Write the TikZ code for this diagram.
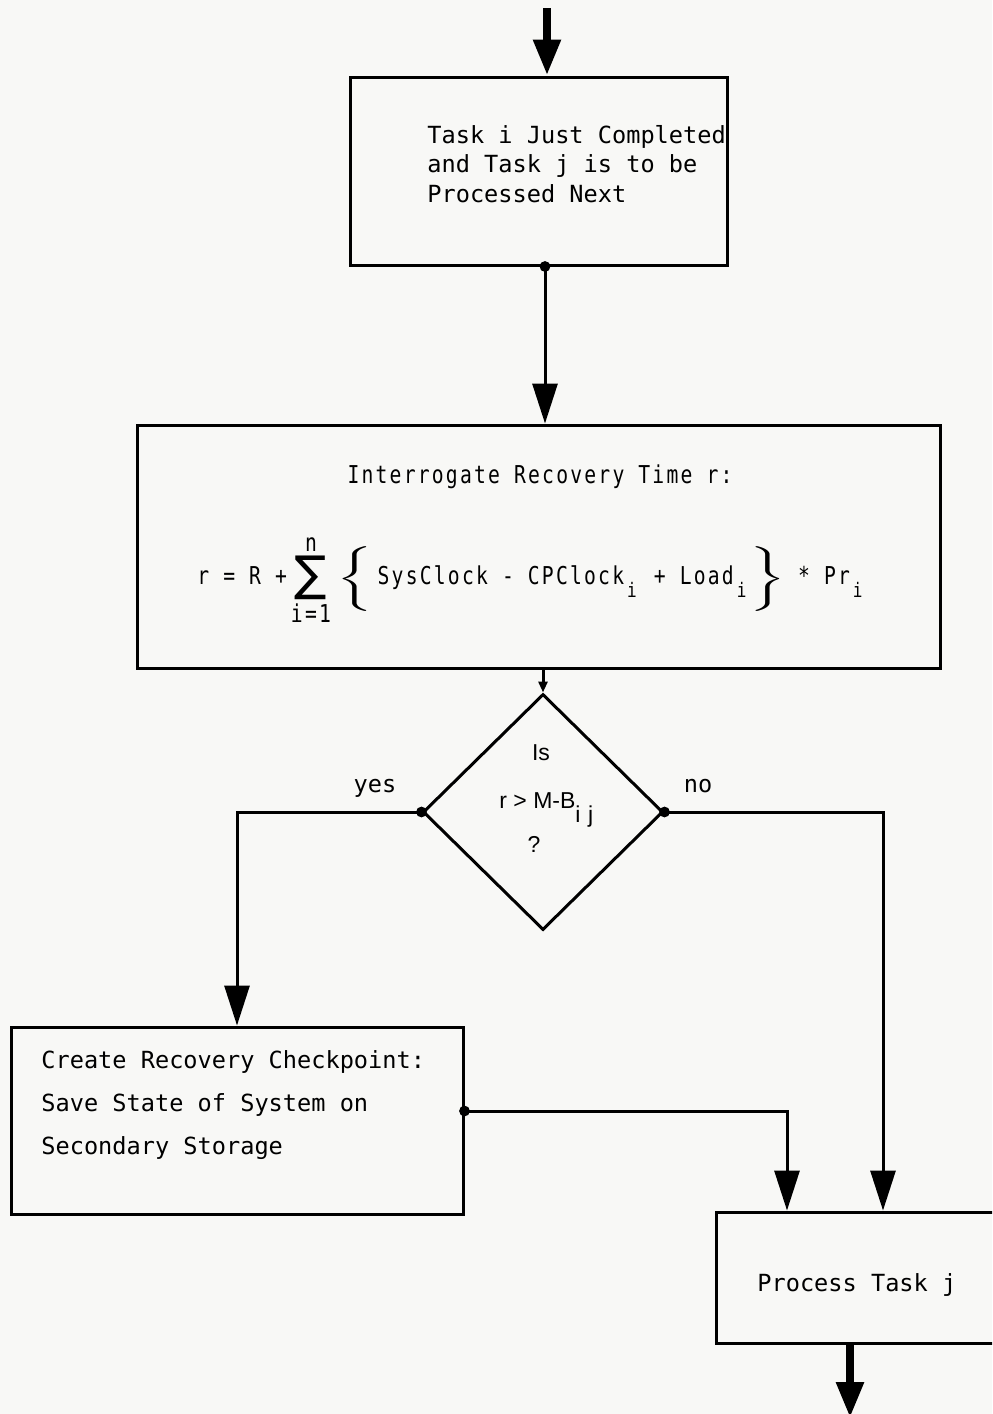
\documentclass[tikz,border=0pt]{standalone}
\usepackage{fontspec}
\usepackage{amsmath}
\usepackage{graphicx}
\usetikzlibrary{arrows.meta,shapes.geometric}
\newfontfamily\typefont{DejaVu Sans Mono}
\newfontfamily\condfont[FakeStretch=0.8,LetterSpace=9]{DejaVu Sans Mono}
\newfontfamily\helvfont{Liberation Sans}
\newfontfamily\opfont{DejaVu Sans}
\newcommand\lowsub[1]{\hspace{1.5pt}\raisebox{-6.5pt}{\fontsize{10}{12}\selectfont #1}\hspace{1.5pt}}
\newcommand\widebrace[1]{\scalebox{1.9}[0.9]{$\Bigg#1$}}
\definecolor{paper}{RGB}{248,248,246}

\begin{document}
\begin{tikzpicture}[x=0.5pt,y=-0.5pt,
  box/.style={draw,line width=1.5pt,rectangle,inner sep=0pt},
  decision/.style={diamond,draw,line width=1.5pt,inner sep=0pt,
    minimum width=120pt,minimum height=118pt},
  link/.style={line width=1.5pt},
  arr/.style={link,-{Triangle[width=12.5pt,length=20pt]}},
  tinyarr/.style={link,-{Triangle[width=4.5pt,length=5.5pt]}},
  heavy/.style={line width=4.2pt,-{Triangle[width=13pt,length=18pt]}},
  typetext/.style={inner sep=0pt,font=\typefont\fontsize{11.8}{14.75}\selectfont},
  listtext/.style={inner sep=0pt,font=\typefont\fontsize{11.8}{21.5}\selectfont},
  condtext/.style={inner sep=0pt,font=\condfont\fontsize{12.3}{14}\selectfont},
  helv/.style={inner sep=0pt,font=\helvfont\fontsize{11.5}{13}\selectfont}]

% page
\fill[paper] (0,0) rectangle (992,1414);
\useasboundingbox (0,0) rectangle (992,1414);
\clip (0,0) rectangle (992,1414);

% boxes
\node[box,minimum width=188.5pt,minimum height=94pt] (b1) at (538.5,171) {};
\node[box,minimum width=401.5pt,minimum height=121.5pt] (b2) at (538.5,546.5) {};
\node[decision] (d) at (543,812) {};
\node[box,minimum width=226pt,minimum height=93.5pt] (b3) at (237,1120.5) {};
\node[box,minimum width=150pt,minimum height=65.5pt] (b4) at (866,1277.5) {};

% texts
\node[typetext,anchor=north west,align=left] (t1) at (427,125)
  {Task i Just Completed\\and Task j is to be\\Processed Next};
\node[condtext,anchor=base] (t2) at (540,483) {Interrogate Recovery Time r:};
\node[condtext,anchor=base west] (eq) at (197,584)
  {r = R +\hspace{2pt}$\mathop{\vcenter{\hbox{\opfont\fontsize{24}{24}\selectfont ∑}}}%
    \limits^{\hbox{n}}_{\hbox{i=1}}$\hspace{3pt}\widebrace\{\hspace{2pt}SysClock - CPClock\lowsub{i} + Load\lowsub{i}\widebrace\}\hspace{6pt}* Pr\lowsub{i}};
\node[helv,anchor=base] (q1) at (541,760) {Is};
\node[helv,anchor=base west] (q2) at (499,808) {r > M-B\raisebox{-7pt}{i\,\,j}};
\node[helv,anchor=base] (q3) at (534,852) {?};
\node[typetext,anchor=base] (yes) at (375,792) {yes};
\node[typetext,anchor=base] (no) at (698,792) {no};
\node[listtext,anchor=north west,align=left] (t3) at (41,1050)
  {Create Recovery Checkpoint:\\Save State of System on\\Secondary Storage};
\node[typetext,anchor=base west] (t4) at (757,1291) {Process Task j};

% connectors
\coordinate (src) at (547,8);
\draw[heavy] (src) -- (src |- b1.north);

\coordinate (o1) at ([xshift=3.25pt]b1.south);
\draw[arr] (o1) -- (o1 |- b2.north);
\fill (o1) circle (2.7pt);

\draw[tinyarr] (b2.south -| d.north) -- (d.north);

\draw[arr] (d.west) -| (b3.north);
\fill (d.west) circle (2.7pt);

\coordinate (nox) at (883,812);
\draw[arr] (d.east) -- (nox) -- (nox |- b4.north);
\fill (d.east) circle (2.7pt);

\coordinate (o3) at ([yshift=4.75pt]b3.east);
\coordinate (jx) at (787,1111);
\draw[arr] (o3) -- (jx) -- (jx |- b4.north);
\fill (o3) circle (2.7pt);

\coordinate (sink) at (850,1418);
\draw[heavy] (sink |- b4.south) -- (sink);
\end{tikzpicture}
\end{document}
